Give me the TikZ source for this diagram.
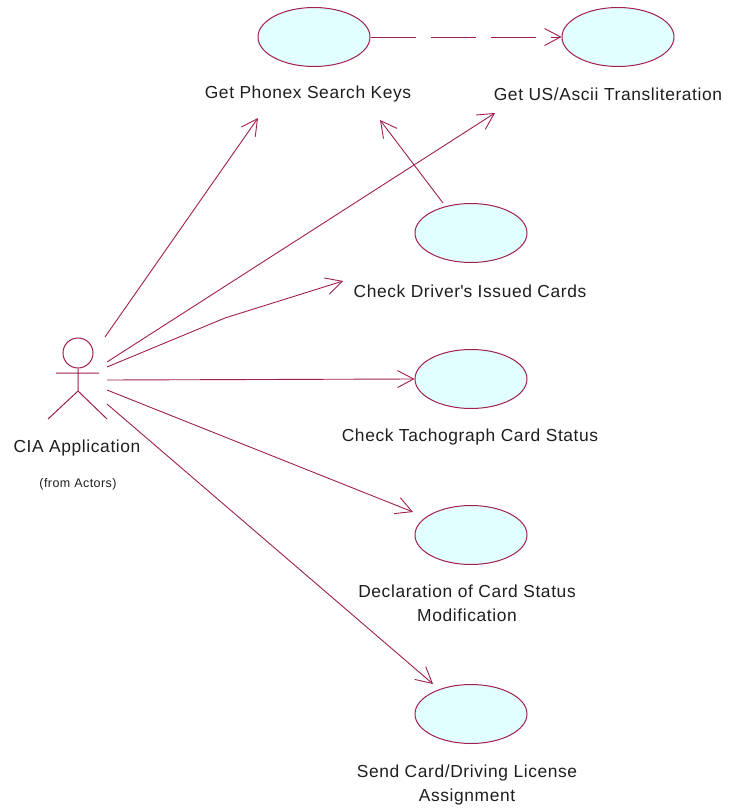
\documentclass[tikz,border=0pt]{standalone}
\usepackage{fontspec}
\setmainfont[LetterSpace = 3.5]{Liberation Sans}
\usepackage{tikz}
\usetikzlibrary{shapes, arrows.meta}
\definecolor{umlline}{RGB}{160,30,80}
\definecolor{umlfill}{RGB}{225,255,255}
\definecolor{umltext}{RGB}{30,30,30}
\tikzstyle{usecase} =
        [
                ellipse,
                draw = umlline,
                fill = umlfill,
                line width = 1pt,
                minimum width = 112pt,
                minimum height = 59pt,
                inner sep = 0pt
        ]
\tikzstyle{caption} =
        [
                text = umltext,
                font = \fontsize{17.4}{24}\selectfont,
                align = center,
                inner sep = 0pt
        ]
\tikzstyle{line} =
        [
                draw = umlline,
                line width = 0.9pt,
                -{Straight Barb[length = 16pt, width = 17pt, line width = 0.9pt]}
        ]
\tikzstyle{depend} =
        [
                line,
                dash pattern = on 45pt off 15pt
        ]

\begin{document}
\begin{tikzpicture}[x = 1pt, y = -1pt]
	        \useasboundingbox (0,0) rectangle (739,810);
	        % actor
	        \node [circle, draw = umlline, line width = 1pt, minimum size = 30pt, inner sep = 0pt] (head) at (78,353) {};
	        \draw [umlline, line width = 1pt] (head.south) -- (78,391) coordinate (hip)
	                (56,373) -- (99,373)
	                (48,419) -- (hip) -- (107,419);
	        \node [caption] (actor) at (77,448) {CIA Application};
	        \node [caption, font = \fontsize{12.5}{15}\selectfont] (from) at (78,484) {(from Actors)};
	        % use cases
	        \node [usecase] (phonex) at (314,37) {};
	        \node [usecase] (ascii) at (618,37) {};
	        \node [usecase] (issued) at (471,233) {};
	        \node [usecase] (tacho) at (471,379) {};
	        \node [usecase] (declare) at (471,535) {};
	        \node [usecase] (assign) at (471,714) {};
	        \node [caption] (phonexlabel) at (308,94) {Get Phonex Search Keys};
	        \node [caption] (asciilabel) at (608,94) {Get US/Ascii Transliteration};
	        \node [caption] (issuedlabel) at (470,291) {Check Driver\textquotesingle s Issued Cards};
	        \node [caption] (tacholabel) at (470,437) {Check Tachograph Card Status};
	        \node [caption] (declarelabel) at (467,603) {Declaration of Card Status\\Modification};
	        \node [caption] (assignlabel) at (467,785) {Send Card/Driving License\\Assignment};
	        % connector ends
	        \coordinate (a1) at (105,337);
	        \coordinate (a2) at (107,362);
	        \coordinate (a3) at (107,367);
	        \coordinate (a4) at (107,380);
	        \coordinate (a5) at (107,390);
	        \coordinate (a6) at (107,404);
	        \coordinate (kink) at (225,318);
	        \coordinate (t1) at (258,118);
	        \coordinate (t2) at (495,113);
	        \coordinate (t3) at (343,281);
	        \coordinate (t5) at (413,512);
	        \coordinate (t6) at (433,684);
	        \coordinate (t7) at (380,120);
	        \coordinate (s7) at (443,203);
	        \path [line] (a1) -- (t1);
	        \path [line] (a2) -- (t2);
	        \path [line] (a3) -- (kink) -- (t3);
	        \path [line] (a4) -- (tacho.west);
	        \path [line] (a5) -- (t5);
	        \path [line] (a6) -- (t6);
	        \path [line] (s7) -- (t7);
	        \path [depend] (phonex.east) -- (ascii.west);
\end{tikzpicture}
\end{document}
